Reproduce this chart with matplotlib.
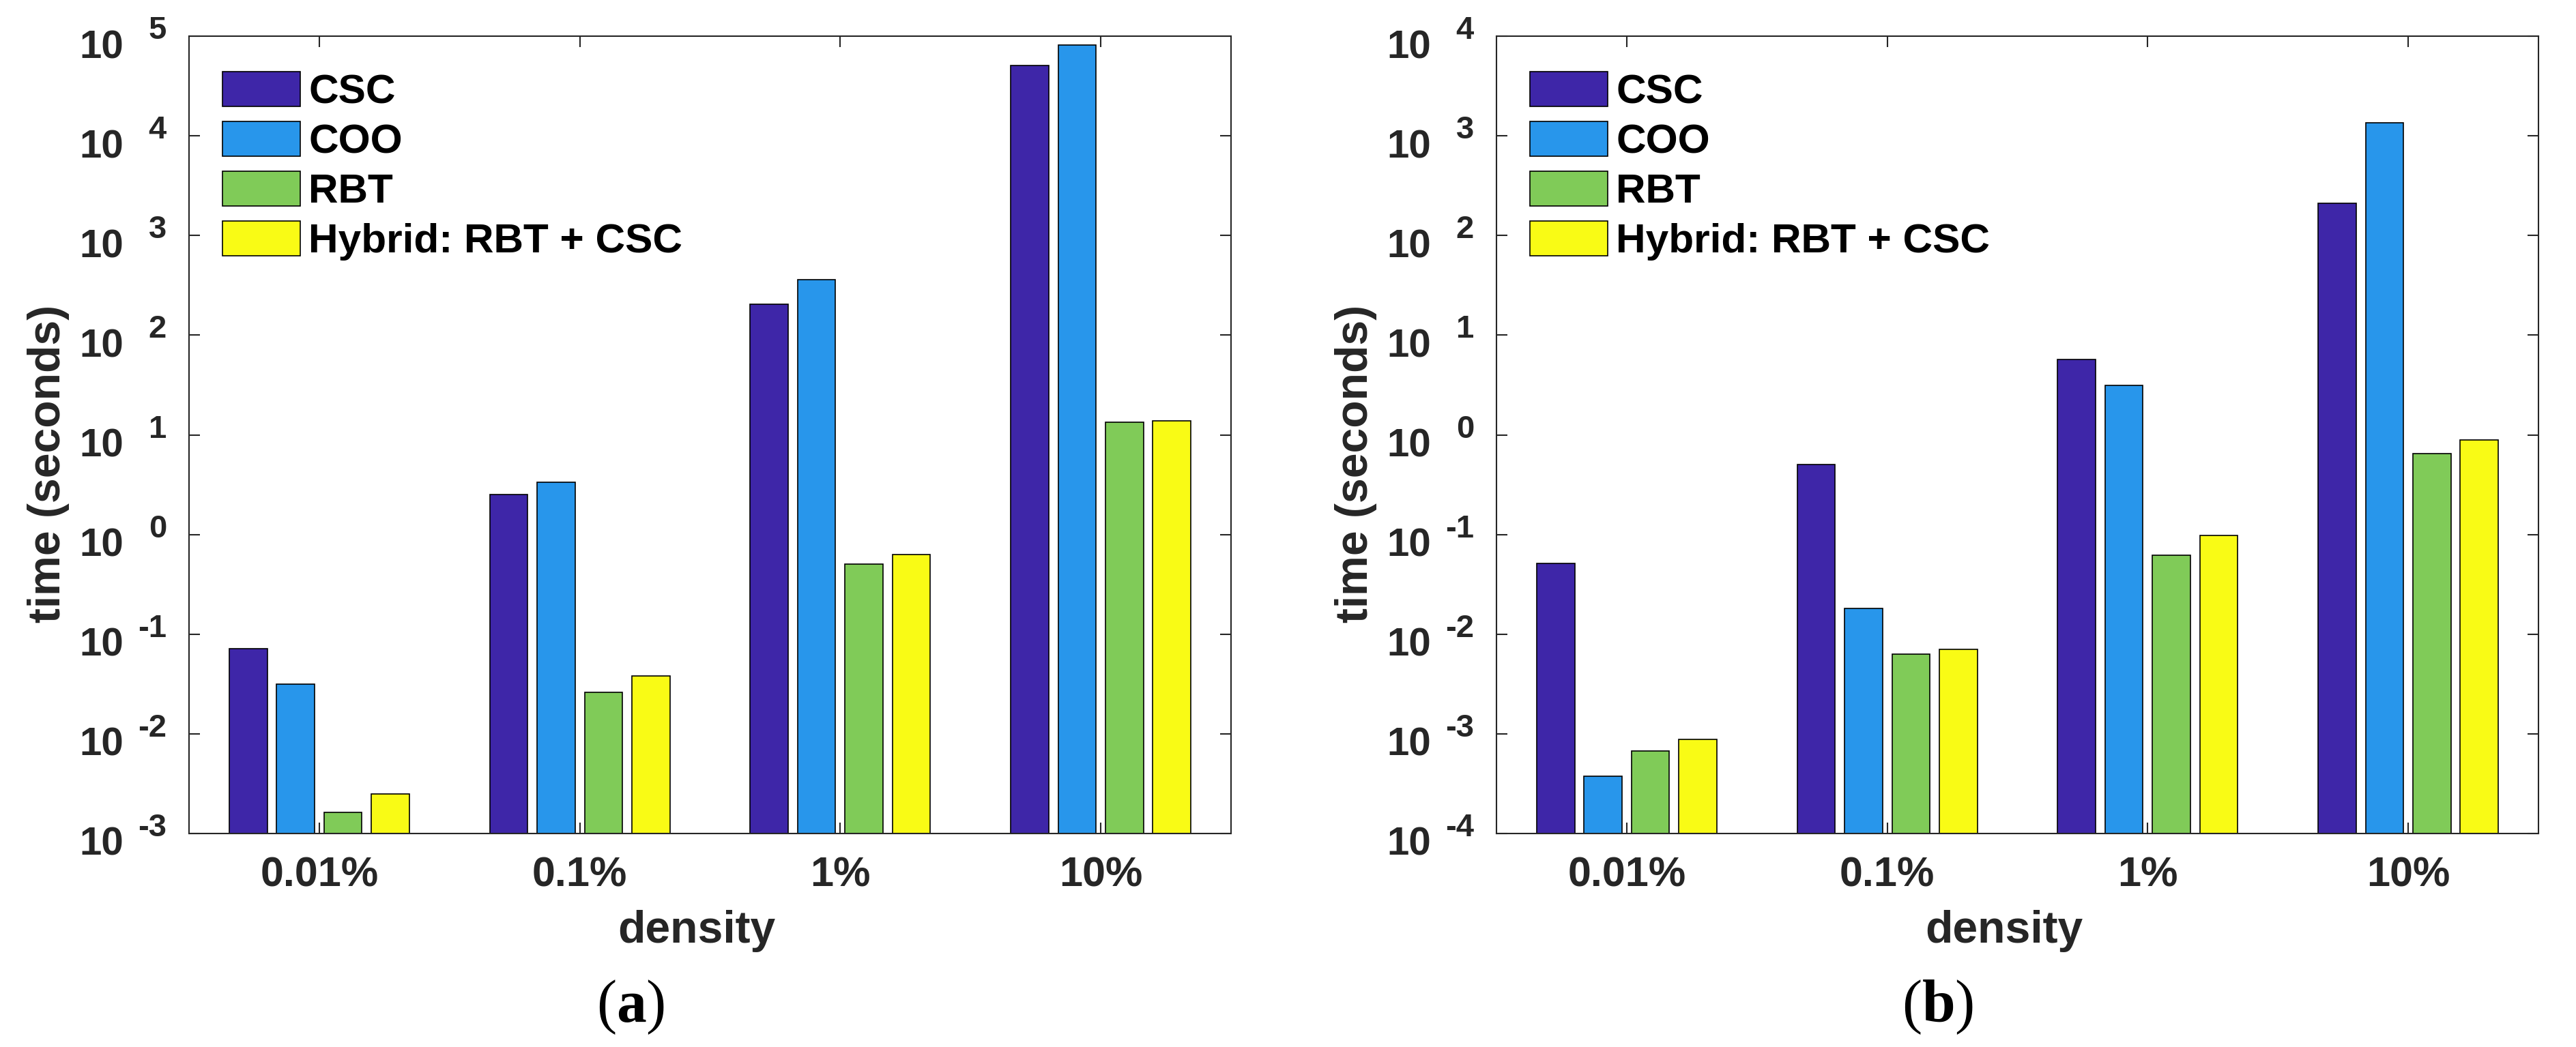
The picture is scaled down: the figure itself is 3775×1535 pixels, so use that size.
import numpy as np
import matplotlib
matplotlib.use('Agg')
import matplotlib.pyplot as plt
from matplotlib.ticker import NullLocator
from matplotlib.transforms import offset_copy

plt.rcParams['font.family'] = ['Liberation Sans', 'DejaVu Sans']
plt.rcParams['mathtext.fontset'] = 'custom'
plt.rcParams['mathtext.rm'] = 'Liberation Serif'
plt.rcParams['mathtext.bf'] = 'Liberation Serif:bold'

densities = ['0.01%', '0.1%', '1%', '10%']
methods = ['CSC', 'COO', 'RBT', 'Hybrid: RBT + CSC']
colors = ['#3E26A8', '#2896EB', '#80CB58', '#F9FB15']

# panel (a), time in seconds
a_csc = [0.071, 2.5, 206, 50700]
a_coo = [0.0313, 3.36, 359, 81800]
a_rbt = [0.00162, 0.026, 0.504, 13.4]
a_hyb = [0.0025, 0.0383, 0.634, 13.9]
a_exps = list(range(-3, 6))

# panel (b), time in seconds
b_csc = [0.0512, 0.501, 5.73, 211]
b_coo = [0.000373, 0.0182, 3.14, 1360]
b_rbt = [0.000671, 0.00628, 0.0615, 0.651]
b_hyb = [0.000885, 0.0070, 0.0977, 0.887]
b_exps = list(range(-4, 5))

W, H = 3775, 1535
DARK = '#262626'

fig = plt.figure(figsize=(W / 100, H / 100), dpi=100)


def px(x, y):
    return x / W, 1 - y / H


def draw_panel(left, series, exps, tag):
    top, bottom, width = 53, 1222, 1527
    ax = fig.add_axes([left / W, 1 - bottom / H, width / W, (bottom - top) / H])
    x = np.arange(1, len(densities) + 1)
    group = min(0.8, len(series) / (len(series) + 1.5))
    bw = group / len(series) * 0.8
    lo = 10.0 ** exps[0]
    bars = []
    for i, vals in enumerate(series):
        off = -group / 2 + group / (2 * len(series)) + i * group / len(series)
        b = ax.bar(x + off, np.array(vals) - lo, bw, bottom=lo, color=colors[i],
                   edgecolor='black', linewidth=1.2, label=methods[i], zorder=2)
        bars.append(b)
    ax.set_yscale('log')
    ax.set_ylim(10.0 ** exps[0], 10.0 ** exps[-1])
    ax.set_xlim(0.5, len(densities) + 0.5)
    ax.set_yticks([10.0 ** e for e in exps])
    ax.yaxis.set_minor_locator(NullLocator())
    ax.set_yticklabels([])
    ax.set_xticks(x)
    ax.set_xticklabels(densities, fontsize=44, fontweight='bold', color=DARK)
    ax.tick_params(direction='in', length=11.5, width=1.5, top=True, right=True,
                   colors=DARK)
    ax.tick_params(axis='x', pad=24)
    for s in ax.spines.values():
        s.set_color(DARK)
        s.set_linewidth(1.5)

    base = ax.get_yaxis_transform()
    for e in exps:
        ax.text(0, 10.0 ** e, '10', ha='right', va='baseline', fontsize=42,
                fontweight='bold', color=DARK, clip_on=False,
                transform=offset_copy(base, fig=fig, x=-96, y=-32, units='dots'))
        ax.text(0, 10.0 ** e, str(e), ha='right', va='baseline', fontsize=34,
                fontweight='bold', color=DARK, clip_on=False,
                transform=offset_copy(base, fig=fig, x=-33, y=-4, units='dots'))

    ax.legend(handles=bars, loc='upper left', bbox_to_anchor=(0.032, 0.9555),
              frameon=False, borderpad=0, borderaxespad=0, handlelength=1.89,
              handleheight=0.93, handletextpad=0.2, labelspacing=0.24,
              prop={'size': 43.5, 'weight': 'bold'})

    fig.text(*px(left + 744, 1382), 'density', ha='center', va='baseline',
             fontsize=47.5, fontweight='bold', color=DARK)
    fig.text(*px(left - 189, 680), 'time (seconds)', ha='center', va='baseline',
             rotation=90, rotation_mode='anchor', fontsize=47.5,
             fontweight='bold', color=DARK)
    fig.text(*px(left + 647, 1498), r'$(\mathbf{' + tag + '})$', ha='center',
             va='baseline', fontsize=63, color='black')
    return ax


draw_panel(277, [a_csc, a_coo, a_rbt, a_hyb], a_exps, 'a')
draw_panel(2193, [b_csc, b_coo, b_rbt, b_hyb], b_exps, 'b')

fig.savefig('out.png', dpi=100, facecolor='white')
